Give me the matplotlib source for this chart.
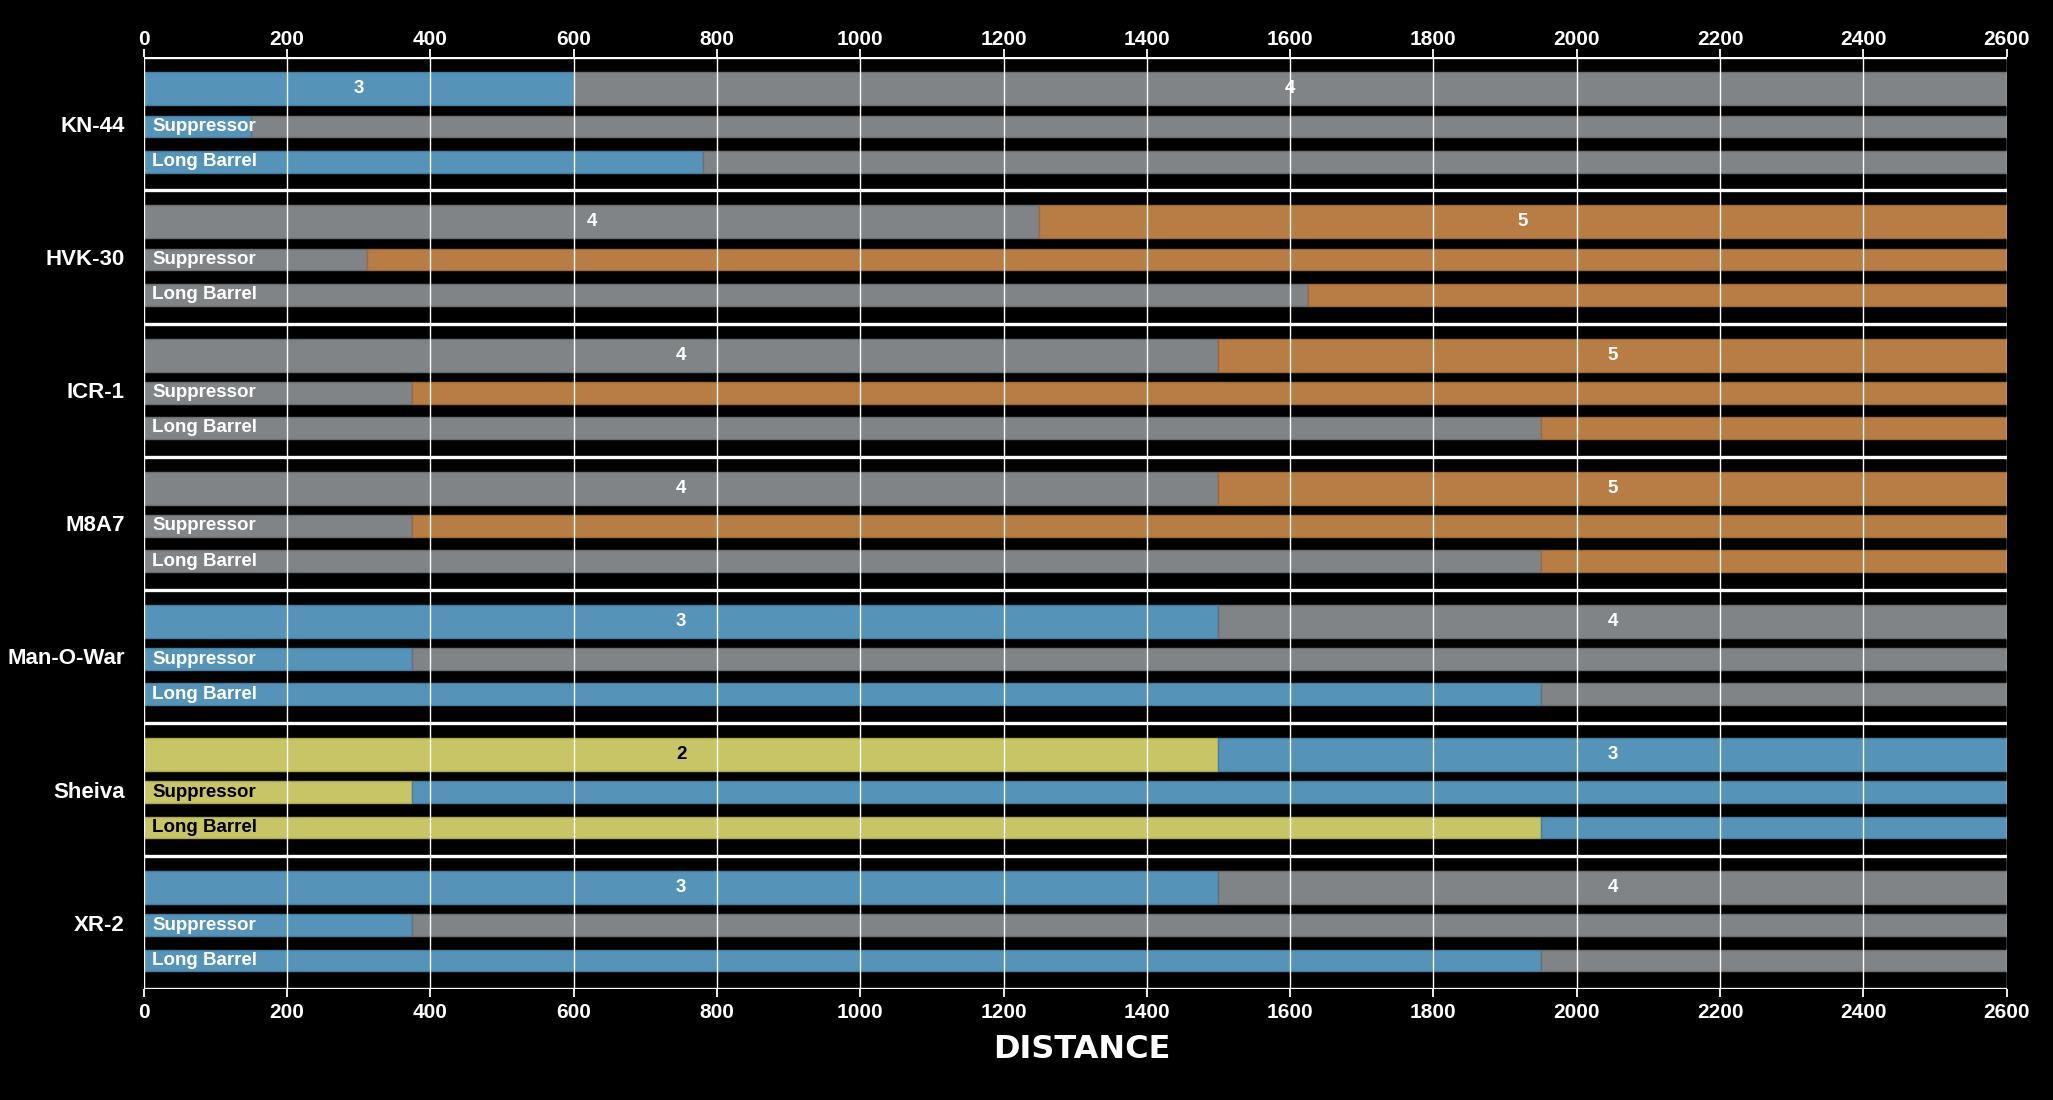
import matplotlib
matplotlib.use("Agg")
import matplotlib.pyplot as plt

weapons = ["KN-44", "HVK-30", "ICR-1", "M8A7", "Man-O-War", "Sheiva", "XR-2"]
near_tier = [3, 4, 4, 4, 3, 2, 3]
far_tier = [4, 5, 5, 5, 4, 3, 4]
base_range = [600, 1250, 1500, 1500, 1500, 1500, 1500]
suppressor_range = [150, 312, 375, 375, 375, 375, 375]
long_barrel_range = [780, 1625, 1950, 1950, 1950, 1950, 1950]
max_distance = 2600
x_ticks = list(range(0, 2601, 200))

tier_colors = {2: "#c8c567", 3: "#5593b9", 4: "#808487", 5: "#b87d44"}
tier_edges = {2: "#a9a655", 3: "#477d9e", 4: "#6c6f72", 5: "#9c6a3a"}
tier_text = {2: "black", 3: "white", 4: "white", 5: "white"}

plt.rcParams['font.family'] = ['Liberation Sans', 'DejaVu Sans']

fig = plt.figure(figsize=(20.53, 11.0), dpi=100, facecolor="black")
ax = fig.add_axes([0.0700, 0.1006, 0.9074, 0.8473])
ax.set_facecolor("black")

main_c, main_h = 0.236, 0.2475
sup_c, sup_h = 0.519, 0.163
lb_c, lb_h = 0.784, 0.163

for k, name in enumerate(weapons):
    n, f = near_tier[k], far_tier[k]
    rows = [(main_c, main_h, base_range[k]),
            (sup_c, sup_h, suppressor_range[k]),
            (lb_c, lb_h, long_barrel_range[k])]
    for (c, h, br) in rows:
        ax.barh(k + c, br, height=h, left=0, color=tier_colors[n],
                edgecolor=tier_edges[n], linewidth=1, zorder=2)
        ax.barh(k + c, max_distance - br, height=h, left=br, color=tier_colors[f],
                edgecolor=tier_edges[f], linewidth=1, zorder=2)
    ax.text(base_range[k] / 2, k + main_c, str(n), color=tier_text[n],
            fontsize=13.5, fontweight="bold", ha="center", va="center", zorder=4)
    ax.text((base_range[k] + max_distance) / 2, k + main_c, str(f), color=tier_text[f],
            fontsize=13.5, fontweight="bold", ha="center", va="center", zorder=4)
    ax.text(12, k + sup_c, "Suppressor", color=tier_text[n], fontsize=13.5,
            fontweight="bold", ha="left", va="center", zorder=4)
    ax.text(12, k + lb_c, "Long Barrel", color=tier_text[n], fontsize=13.5,
            fontweight="bold", ha="left", va="center", zorder=4)

for k in range(len(weapons) + 1):
    ax.axhline(k, color="white", linewidth=2.4, zorder=3)

ax.set_xlim(0, max_distance)
ax.set_ylim(len(weapons), 0)
ax.set_xticks(x_ticks)
ax.set_xticklabels([str(t) for t in x_ticks])
ax.grid(axis="x", color="white", linewidth=1.0, zorder=3)
ax.set_axisbelow(False)
ax.set_yticks([k + 0.5 for k in range(len(weapons))])
ax.set_yticklabels(weapons)
ax.tick_params(axis="y", length=0, pad=13.5, labelsize=16, labelcolor="white")
ax.tick_params(axis="x", top=False, labeltop=False, bottom=True, labelbottom=True,
               length=6, width=1.3, color="white", labelcolor="white",
               labelsize=15, pad=4)
for lab in ax.get_xticklabels() + ax.get_yticklabels():
    lab.set_fontweight("bold")
for s in ax.spines.values():
    s.set_visible(False)

top = ax.secondary_xaxis("top")
top.set_xticks(x_ticks)
top.set_xticklabels([str(t) for t in x_ticks])
top.tick_params(axis="x", length=6, width=1.3, color="white", labelcolor="white",
                labelsize=15, pad=0.3)
for lab in top.get_xticklabels():
    lab.set_fontweight("bold")
for s in top.spines.values():
    s.set_visible(False)

fig.text(0.527, 0.0455, "DISTANCE", color="white", fontsize=23, fontweight="bold",
         ha="center", va="center", family=["DejaVu Sans"])

fig.savefig("out.png", dpi=100, facecolor="black")
